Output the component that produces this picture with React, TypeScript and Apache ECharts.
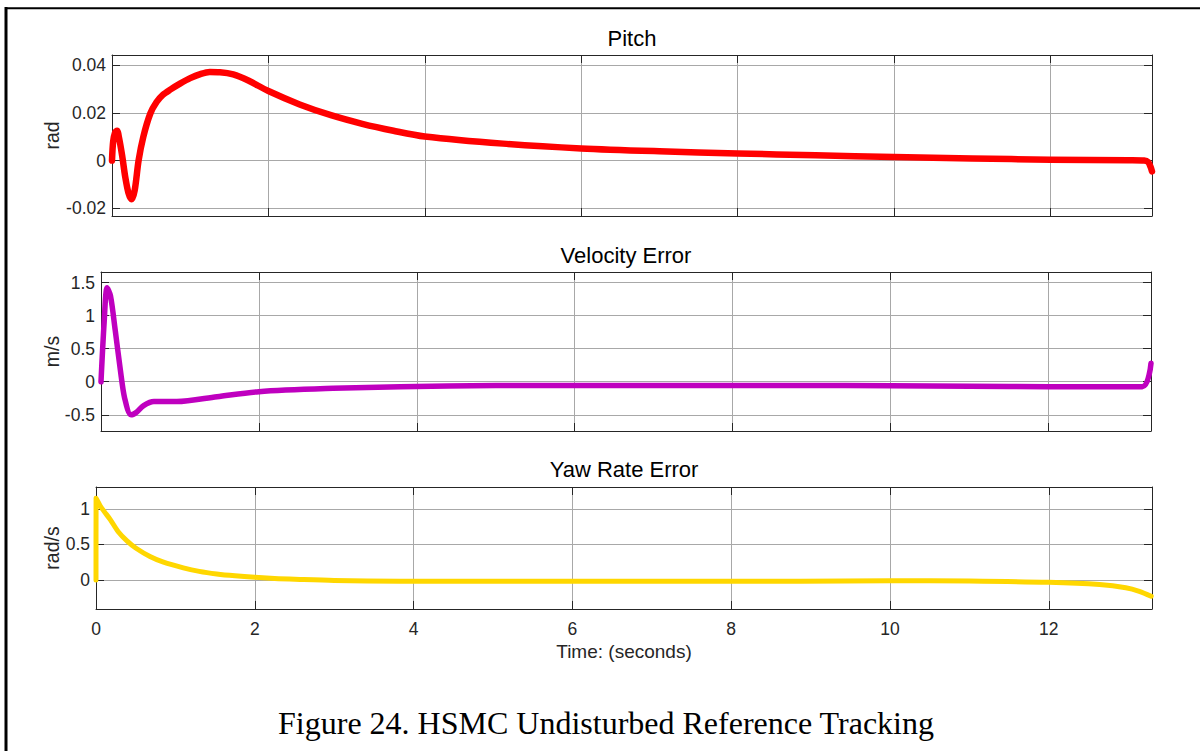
import React, { useEffect, useRef } from "react";
import * as echarts from "echarts";

// Simulation horizon shared by the three panels (seconds)
const timeMax = 13.3;
const timeInterval = 2;

// Pitch response (rad)
const pitchTime = [0, 0.015, 0.04, 0.065, 0.09, 0.13, 0.17, 0.21, 0.25, 0.29, 0.34, 0.4, 0.49, 0.57, 0.65, 0.75, 0.87, 1.0, 1.13, 1.25, 1.38, 1.55, 1.75, 2.0, 2.4, 2.8, 3.2, 3.6, 4.0, 5.0, 6.0, 7.0, 8.0, 9.0, 10.0, 11.0, 12.0, 13.0, 13.2, 13.25, 13.28, 13.3];
const pitchValue = [0, 0.008, 0.0118, 0.0125, 0.0095, 0.002, -0.007, -0.0135, -0.0162, -0.0125, 0.0, 0.0099, 0.0197, 0.0245, 0.0275, 0.0298, 0.0322, 0.0345, 0.0362, 0.0371, 0.037, 0.0361, 0.0334, 0.0291, 0.0235, 0.019, 0.0154, 0.0125, 0.0101, 0.0071, 0.0051, 0.0039, 0.003, 0.0022, 0.0015, 0.0009, 0.0004, 0.0001, 0.0, -0.0006, -0.0025, -0.0045];

// Velocity error (m/s)
const velocityTime = [0, 0.04, 0.077, 0.12, 0.18, 0.245, 0.3, 0.38, 0.45, 0.54, 0.67, 0.96, 1.47, 2.0, 2.94, 3.79, 5.0, 6.0, 7.0, 8.0, 8.85, 10.0, 11.0, 12.0, 13.19, 13.3];
const velocityValue = [0, 0.9, 1.42, 1.3, 0.78, 0.18, -0.25, -0.5, -0.46, -0.36, -0.3, -0.3, -0.226, -0.15, -0.1, -0.075, -0.058, -0.055, -0.055, -0.055, -0.055, -0.062, -0.068, -0.075, -0.075, 0.28];

// Yaw rate error (rad/s)
const yawTime = [0, 0.001, 0.05, 0.1, 0.18, 0.28, 0.39, 0.5, 0.68, 0.85, 1.1, 1.3, 1.52, 1.75, 2.0, 2.3, 2.57, 3.0, 3.83, 5.0, 6.0, 7.0, 8.0, 8.87, 10.0, 11.0, 12.0, 12.64, 12.97, 13.14, 13.29];
const yawValue = [0, 1.15, 1.05, 0.97, 0.85, 0.68, 0.55, 0.45, 0.33, 0.25, 0.17, 0.12, 0.084, 0.058, 0.037, 0.018, 0.006, -0.008, -0.018, -0.02, -0.02, -0.02, -0.02, -0.02, -0.012, -0.016, -0.034, -0.066, -0.11, -0.16, -0.23];

const panelTitles = ["Pitch", "Velocity Error", "Yaw Rate Error"];
const panelUnits = ["rad", "m/s", "rad/s"];
const panelLimits = [
  [-0.0232, 0.0442],
  [-0.745, 1.66],
  [-0.41, 1.31],
];
const panelSplits = [4, 5, 3];
const timeLabel = "Time: (seconds)";
const figureCaption = "Figure 24. HSMC Undisturbed Reference Tracking";

const zip = (xs: number[], ys: number[]) => xs.map((x, i) => [x, ys[i]]);

export default function App() {
  const ref = useRef<HTMLDivElement>(null);

  useEffect(() => {
    if (!ref.current) return;
    const chart = echarts.init(ref.current, null, { renderer: "svg" });

    const grids = [
      { left: 112, top: 55, width: 1040, height: 161 },
      { left: 101, top: 272, width: 1050, height: 159 },
      { left: 96, top: 487, width: 1056, height: 122 },
    ];
    const seriesData = [
      zip(pitchTime, pitchValue),
      zip(velocityTime, velocityValue),
      zip(yawTime, yawValue),
    ];
    const colors = ["#ff0000", "#bf00bf", "#ffd700"];
    const widths = [6.5, 5.5, 5];

    const axisColor = "#262626";
    const gridColor = "#a8a8a8";
    const sans = "'Liberation Sans', Arial, sans-serif";
    const lineStyle = { color: axisColor, width: 1 };
    const tick = { show: true, inside: true, length: 8, lineStyle };

    const xAxes: any[] = [];
    const yAxes: any[] = [];
    grids.forEach((_, i) => {
      xAxes.push({
        type: "value",
        gridIndex: i,
        position: "bottom",
        min: 0,
        max: timeMax,
        interval: timeInterval,
        axisLine: { show: true, onZero: false, lineStyle },
        axisTick: tick,
        axisLabel: {
          show: i === 2,
          showMaxLabel: false,
          color: axisColor,
          fontFamily: sans,
          fontSize: 17.5,
          margin: 11,
        },
        splitLine: { show: true, lineStyle: { color: gridColor, width: 1 } },
      });
      xAxes.push({
        type: "value",
        gridIndex: i,
        position: "top",
        min: 0,
        max: timeMax,
        interval: timeInterval,
        axisLine: { show: true, onZero: false, lineStyle },
        axisTick: tick,
        axisLabel: { show: false },
        splitLine: { show: false },
      });
      yAxes.push({
        type: "value",
        gridIndex: i,
        position: "left",
        min: panelLimits[i][0],
        max: panelLimits[i][1],
        splitNumber: panelSplits[i],
        axisLine: { show: true, onZero: false, lineStyle },
        axisTick: tick,
        axisLabel: {
          show: true,
          showMinLabel: false,
          showMaxLabel: false,
          color: axisColor,
          fontFamily: sans,
          fontSize: 17.5,
          margin: 6,
        },
        splitLine: { show: true, lineStyle: { color: gridColor, width: 1 } },
      });
      yAxes.push({
        type: "value",
        gridIndex: i,
        position: "right",
        min: panelLimits[i][0],
        max: panelLimits[i][1],
        splitNumber: panelSplits[i],
        axisLine: { show: true, onZero: false, lineStyle },
        axisTick: tick,
        axisLabel: { show: false },
        splitLine: { show: false },
      });
    });

    const titleY = [38, 255, 469];
    const graphic: any[] = [
      // figure frame (left and top rules)
      { type: "line", shape: { x1: 6, y1: 7, x2: 6, y2: 751 }, style: { stroke: "#000", lineWidth: 3 } },
      { type: "line", shape: { x1: 5, y1: 8.3, x2: 1200, y2: 8.3 }, style: { stroke: "#000", lineWidth: 2 } },
    ];
    grids.forEach((g, i) => {
      graphic.push({
        type: "text",
        x: g.left + g.width / 2,
        y: titleY[i],
        style: {
          text: panelTitles[i],
          fill: "#000",
          font: `22px ${sans}`,
          align: "center",
          verticalAlign: "middle",
          textAlign: "center",
          textVerticalAlign: "middle",
        },
      });
      graphic.push({
        type: "text",
        x: 51.5,
        y: g.top + g.height / 2,
        rotation: Math.PI / 2,
        style: {
          text: panelUnits[i],
          fill: axisColor,
          font: `19.5px ${sans}`,
          align: "center",
          verticalAlign: "middle",
          textAlign: "center",
          textVerticalAlign: "middle",
        },
      });
    });
    graphic.push({
      type: "text",
      x: 624,
      y: 651,
      style: {
        text: timeLabel,
        fill: axisColor,
        font: `19px ${sans}`,
        align: "center",
        verticalAlign: "middle",
        textAlign: "center",
        textVerticalAlign: "middle",
      },
    });
    graphic.push({
      type: "text",
      x: 606,
      y: 723,
      style: {
        text: figureCaption,
        fill: "#000",
        font: `32px 'Liberation Serif', 'Times New Roman', serif`,
        align: "center",
        verticalAlign: "middle",
        textAlign: "center",
        textVerticalAlign: "middle",
      },
    });

    chart.setOption({
      animation: false,
      backgroundColor: "#ffffff",
      grid: grids.map((g) => ({ ...g, containLabel: false })),
      xAxis: xAxes,
      yAxis: yAxes,
      series: seriesData.map((data, i) => ({
        type: "line",
        name: panelTitles[i],
        xAxisIndex: i * 2,
        yAxisIndex: i * 2,
        data,
        showSymbol: false,
        smooth: 0.3,
        lineStyle: { color: colors[i], width: widths[i], cap: "round", join: "round" },
        z: 5,
      })),
      graphic,
    });

    return () => chart.dispose();
  }, []);

  return (
    <div
      ref={ref}
      style={{ position: "absolute", left: 0, top: 0, width: 1200, height: 751 }}
    />
  );
}
